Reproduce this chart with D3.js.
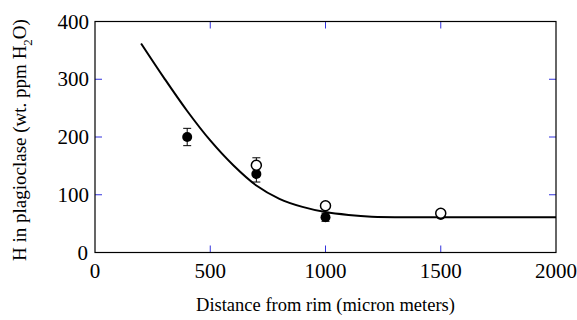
<!DOCTYPE html>
<html>
<head>
<meta charset="utf-8">
<script src="https://cdn.jsdelivr.net/npm/d3@7"></script>
<style>
  body { margin: 0; background: #fff; }
  text { font-family: "Liberation Serif", "Times New Roman", serif; }
</style>
</head>
<body>
<script>
// fitted curve
var curveX = [200, 300, 400, 500, 600, 700, 800, 900, 1000, 1100, 1200, 1400, 1700, 2000];
var curveY = [362, 302, 245, 194, 151, 116, 93, 79, 70, 65, 62, 61, 61, 61];

// filled circles (with error)
var filledX = [400, 700, 1000, 1500];
var filledY = [200, 136, 61, 65];
var filledErr = [15, 14, 7, 0];

// open circles
var openX = [700, 1000, 1500];
var openY = [151, 81, 68];
var openErr = [13, 0, 0];

var xTicks = [0, 500, 1000, 1500, 2000];
var yTicks = [0, 100, 200, 300, 400];

var margin = {top: 21.5, right: 21, bottom: 67.5, left: 95},
    width = 577 - margin.left - margin.right,
    height = 320 - margin.top - margin.bottom;

var svg = d3.select("body").append("svg")
    .attr("width", 577)
    .attr("height", 320);

var g = svg.append("g")
    .attr("transform", "translate(" + margin.left + "," + margin.top + ")");

var x = d3.scaleLinear().domain([0, 2000]).range([0, width]);
var y = d3.scaleLinear().domain([0, 400]).range([height, 0]);

// inner blue ticks on all four sides
var inner = [500, 1000, 1500];
var innerY = [100, 200, 300];
g.selectAll(".tb").data(inner).enter().append("line")
    .attr("x1", x).attr("x2", x)
    .attr("y1", height).attr("y2", height - 7)
    .attr("stroke", "#3333dd").attr("stroke-width", 1);
g.selectAll(".tt").data(inner).enter().append("line")
    .attr("x1", x).attr("x2", x)
    .attr("y1", 0).attr("y2", 7)
    .attr("stroke", "#3333dd").attr("stroke-width", 1);
g.selectAll(".tl").data(innerY).enter().append("line")
    .attr("y1", y).attr("y2", y)
    .attr("x1", 0).attr("x2", 7)
    .attr("stroke", "#3333dd").attr("stroke-width", 1);
g.selectAll(".tr").data(innerY).enter().append("line")
    .attr("y1", y).attr("y2", y)
    .attr("x1", width).attr("x2", width - 7)
    .attr("stroke", "#3333dd").attr("stroke-width", 1);

// frame
g.append("rect")
    .attr("width", width).attr("height", height)
    .attr("fill", "none").attr("stroke", "#000").attr("stroke-width", 1.2);

// tick labels
g.selectAll(".xl").data(xTicks).enter().append("text")
    .attr("x", x).attr("y", height + 25)
    .attr("text-anchor", "middle")
    .style("font-size", "21px")
    .text(function(d) { return d; });

g.selectAll(".yl").data(yTicks.filter(function(d) { return d > 0; })).enter().append("text")
    .attr("x", -6).attr("y", function(d) { return y(d) + 7; })
    .attr("text-anchor", "end")
    .style("font-size", "21px")
    .text(function(d) { return d; });
g.append("text")
    .attr("x", -7).attr("y", height + 7)
    .attr("text-anchor", "end")
    .style("font-size", "21px")
    .text("0");

// axis titles
svg.append("text")
    .attr("x", margin.left + width / 2).attr("y", 311)
    .attr("text-anchor", "middle")
    .style("font-size", "18.5px")
    .text("Distance from rim (micron meters)");

var yt = svg.append("text")
    .attr("transform", "translate(26," + (margin.top + height / 2 + 3) + ") rotate(-90)")
    .attr("text-anchor", "middle")
    .style("font-size", "19px");
yt.append("tspan").text("H in plagioclase (wt. ppm H");
yt.append("tspan").attr("dy", 6).style("font-size", "13px").text("2");
yt.append("tspan").attr("dy", -6).text("O)");

// curve
var line = d3.line()
    .x(function(d) { return x(d[0]); })
    .y(function(d) { return y(d[1]); })
    .curve(d3.curveCatmullRom.alpha(0.5));
g.append("path")
    .datum(d3.zip(curveX, curveY))
    .attr("d", line)
    .attr("fill", "none").attr("stroke", "#000").attr("stroke-width", 2);

// error bars
function errBars(xs, ys, es) {
    var data = d3.zip(xs, ys, es).filter(function(d) { return d[2] > 0; });
    var eg = g.selectAll(null).data(data).enter().append("g");
    eg.append("line")
        .attr("x1", function(d) { return x(d[0]); }).attr("x2", function(d) { return x(d[0]); })
        .attr("y1", function(d) { return y(d[1] + d[2]); }).attr("y2", function(d) { return y(d[1] - d[2]); })
        .attr("stroke", "#000");
    [1, -1].forEach(function(s) {
        eg.append("line")
            .attr("x1", function(d) { return x(d[0]) - 4; }).attr("x2", function(d) { return x(d[0]) + 4; })
            .attr("y1", function(d) { return y(d[1] + s * d[2]); }).attr("y2", function(d) { return y(d[1] + s * d[2]); })
            .attr("stroke", "#000");
    });
}
errBars(filledX, filledY, filledErr);
errBars(openX, openY, openErr);

g.selectAll(".fill").data(d3.zip(filledX, filledY)).enter().append("circle")
    .attr("cx", function(d) { return x(d[0]); })
    .attr("cy", function(d) { return y(d[1]); })
    .attr("r", 5).attr("fill", "#000");

g.selectAll(".open").data(d3.zip(openX, openY)).enter().append("circle")
    .attr("cx", function(d) { return x(d[0]); })
    .attr("cy", function(d) { return y(d[1]); })
    .attr("r", 5).attr("fill", "#fff").attr("stroke", "#000").attr("stroke-width", 1.5);
</script>
</body>
</html>
